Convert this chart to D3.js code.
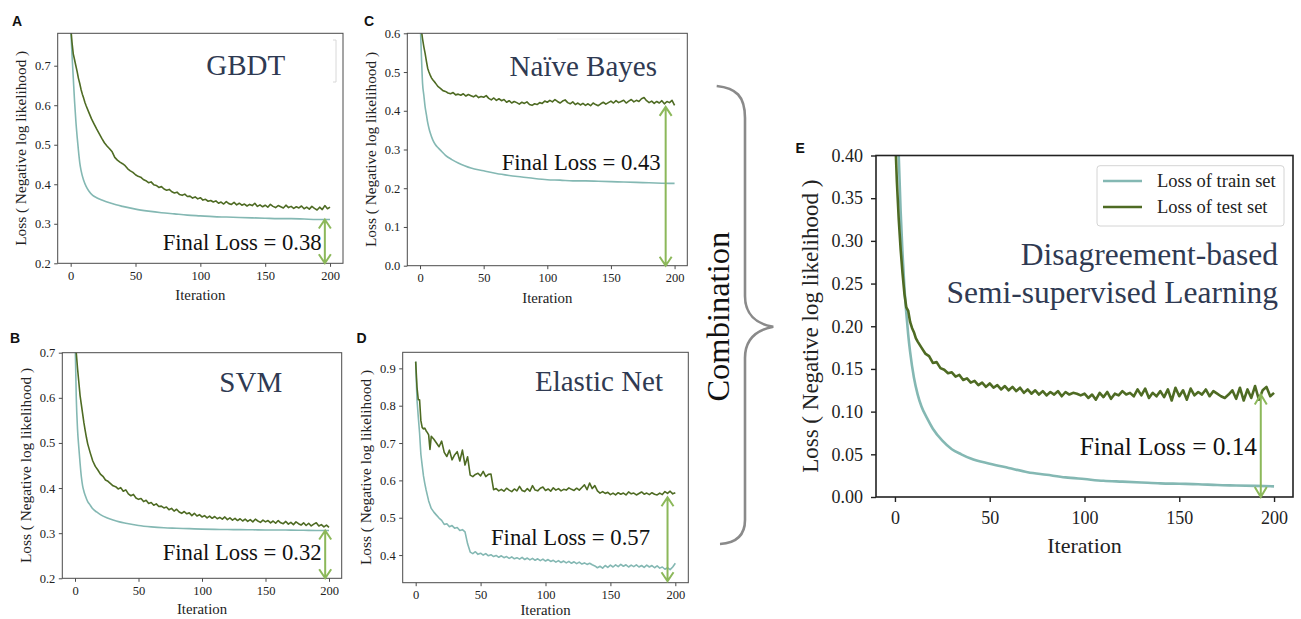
<!DOCTYPE html>
<html>
<head>
<meta charset="utf-8">
<script src="https://cdn.jsdelivr.net/npm/d3@7"></script>
<style>
  body { margin: 0; background: #fff; }
  svg { display: block; }
</style>
</head>
<body>
<div id="chart"></div>
<script>
// iteration grids (x values)
const iterDense = [0,1,2,3,4,5,6,7,8,9,10,11,12,
  14,16,18,20,22,24,26,28,30,32,34,36,38,40,42,44,46,48,50,52,54,56,58,60,
  62,64,66,68,70,72,74,76,78,80,82,84,86,88,90,92,94,96,98,100,
  102,104,106,108,110,112,114,116,118,120,122,124,126,128,130,132,134,136,138,140,
  142,144,146,148,150,152,154,156,158,160,162,164,166,168,170,172,174,176,178,180,
  182,184,186,188,190,192,194,196,198,200];
const iterSparse = [0,1,2,3,4,5,6,7,8,10,12,14,17,20,25,30,35,40,50,60,70,80,90,100,110,120,130,140,150,160,170,180,190,200];

// A: GBDT
const gbdtTrain = [0.80,0.73,0.67,0.61,0.56,0.52,0.485,0.455,0.435,0.41,0.394,0.383,0.372,0.366,0.359,0.353,0.348,0.344,0.337,0.332,0.328,0.325,0.322,0.32,0.318,0.317,0.316,0.315,0.314,0.313,0.313,0.312,0.311,0.311];
const gbdtTest = [0.80,0.76,0.73,0.715,0.70,0.685,0.668,0.655,0.64,0.628,0.618,0.607,0.598,
  0.582,0.566,0.553,0.54,0.528,0.516,0.505,0.497,0.49,0.482,0.468,0.461,0.456,0.452,0.447,0.439,0.434,0.43,0.424,0.42,0.418,0.412,0.409,0.404,
  0.406,0.399,0.397,0.392,0.394,0.388,0.385,0.387,0.381,0.378,0.38,0.374,0.372,0.375,0.369,0.37,0.365,0.368,0.363,0.366,
  0.36,0.362,0.357,0.359,0.355,0.358,0.352,0.355,0.35,0.356,0.351,0.349,0.354,0.348,0.352,0.347,0.35,0.345,0.349,0.346,
  0.352,0.344,0.348,0.343,0.347,0.342,0.349,0.344,0.341,0.346,0.343,0.34,0.347,0.341,0.344,0.339,0.343,0.34,0.345,0.338,
  0.342,0.337,0.344,0.339,0.335,0.342,0.336,0.346,0.338,0.342];

// B: SVM
const svmTrain = [0.74,0.60,0.53,0.49,0.455,0.425,0.405,0.393,0.384,0.37,0.362,0.354,0.347,0.341,0.334,0.329,0.325,0.322,0.317,0.314,0.312,0.311,0.31,0.309,0.3085,0.308,0.3078,0.3075,0.307,0.307,0.3068,0.3065,0.306,0.306];
const svmTest = [0.74,0.70,0.665,0.635,0.605,0.585,0.565,0.545,0.528,0.512,0.498,0.488,0.478,
  0.46,0.448,0.44,0.431,0.426,0.418,0.415,0.41,0.405,0.403,0.398,0.401,0.393,0.396,0.387,0.383,0.386,0.378,0.375,0.377,0.37,0.373,0.366,0.368,
  0.362,0.365,0.359,0.36,0.356,0.358,0.352,0.355,0.349,0.353,0.347,0.344,0.348,0.343,0.345,0.339,0.344,0.338,0.341,0.336,
  0.339,0.334,0.338,0.333,0.337,0.332,0.335,0.331,0.336,0.33,0.334,0.329,0.333,0.328,0.332,0.327,0.331,0.326,0.33,0.325,
  0.331,0.327,0.324,0.329,0.325,0.328,0.323,0.327,0.322,0.328,0.323,0.321,0.326,0.32,0.324,0.319,0.325,0.321,0.318,0.323,
  0.317,0.322,0.316,0.32,0.323,0.316,0.319,0.314,0.318,0.313];

// C: Naive Bayes
const nbTrain = [0.64,0.55,0.47,0.44,0.41,0.39,0.37,0.355,0.343,0.325,0.313,0.305,0.295,0.285,0.274,0.265,0.258,0.252,0.245,0.238,0.233,0.229,0.225,0.222,0.221,0.219,0.219,0.218,0.217,0.216,0.215,0.214,0.213,0.2125];
const nbTest = [0.64,0.61,0.585,0.565,0.548,0.528,0.51,0.50,0.492,0.485,0.48,0.476,0.472,
  0.463,0.458,0.452,0.45,0.446,0.444,0.447,0.441,0.443,0.44,0.444,0.438,0.442,0.439,0.436,0.44,0.434,0.437,0.435,0.439,0.432,0.428,0.433,0.427,
  0.431,0.426,0.429,0.422,0.426,0.42,0.424,0.421,0.417,0.422,0.419,0.423,0.416,0.414,0.418,0.416,0.421,0.419,0.425,0.422,
  0.427,0.423,0.429,0.424,0.42,0.425,0.428,0.421,0.418,0.423,0.416,0.42,0.415,0.419,0.414,0.418,0.413,0.42,0.416,0.413,
  0.418,0.422,0.417,0.421,0.425,0.42,0.426,0.421,0.424,0.427,0.42,0.425,0.429,0.423,0.427,0.424,0.431,0.434,0.426,0.421,
  0.425,0.419,0.424,0.42,0.426,0.418,0.424,0.421,0.427,0.414];

// D: Elastic Net
const enTrain = [0.918,0.816,0.77,0.727,0.67,0.64,0.612,0.592,0.575,0.56,0.545,0.535,0.525,
  0.515,0.507,0.499,0.493,0.482,0.484,0.476,0.479,0.472,0.474,0.466,0.468,0.462,0.43,0.408,0.404,0.409,0.402,0.405,0.40,0.404,0.398,0.401,0.396,
  0.399,0.394,0.398,0.393,0.396,0.391,0.395,0.39,0.393,0.389,0.394,0.388,0.392,0.387,0.391,0.386,0.39,0.385,0.389,0.384,
  0.388,0.383,0.386,0.381,0.385,0.38,0.384,0.379,0.383,0.378,0.382,0.377,0.381,0.376,0.379,0.375,0.378,0.374,0.371,0.366,
  0.37,0.365,0.372,0.367,0.373,0.368,0.374,0.369,0.375,0.37,0.374,0.368,0.373,0.369,0.374,0.368,0.372,0.367,0.373,0.368,
  0.372,0.366,0.371,0.365,0.368,0.362,0.366,0.361,0.368,0.378];
const enTest = [0.918,0.85,0.816,0.816,0.76,0.742,0.738,0.74,0.733,0.728,0.722,0.683,0.718,
  0.71,0.70,0.69,0.705,0.675,0.664,0.681,0.655,0.668,0.677,0.652,0.681,0.641,0.663,0.614,0.61,0.616,0.619,0.612,0.624,0.61,0.616,0.617,0.575,
  0.578,0.572,0.576,0.571,0.579,0.574,0.57,0.577,0.572,0.584,0.573,0.57,0.578,0.571,0.586,0.574,0.572,0.579,0.582,0.573,
  0.577,0.571,0.58,0.574,0.578,0.572,0.576,0.574,0.58,0.576,0.573,0.579,0.574,0.581,0.588,0.575,0.593,0.578,0.586,0.572,
  0.566,0.57,0.565,0.568,0.562,0.566,0.561,0.567,0.563,0.566,0.561,0.569,0.564,0.566,0.561,0.565,0.569,0.563,0.566,0.562,
  0.567,0.563,0.561,0.566,0.562,0.57,0.565,0.571,0.564,0.567];

// E: Disagreement-based semi-supervised learning
const ssTrain = [0.55,0.46,0.40,0.335,0.285,0.245,0.215,0.19,0.17,0.14,0.12,0.106,0.092,0.08,0.066,0.056,0.05,0.045,0.039,0.034,0.029,0.026,0.023,0.021,0.019,0.018,0.017,0.016,0.0155,0.015,0.014,0.0135,0.013,0.0125];
const ssTest = [0.43,0.37,0.325,0.29,0.262,0.238,0.222,0.218,0.205,0.198,0.193,0.186,0.182,
  0.175,0.168,0.165,0.157,0.158,0.151,0.149,0.145,0.146,0.141,0.143,0.137,0.139,0.134,0.136,0.131,0.134,0.129,0.133,0.128,0.131,0.126,0.13,0.125,
  0.129,0.124,0.128,0.122,0.126,0.121,0.125,0.12,0.124,0.119,0.123,0.12,0.124,0.118,0.123,0.12,0.122,0.121,0.119,0.121,
  0.116,0.12,0.114,0.122,0.117,0.123,0.115,0.121,0.119,0.124,0.12,0.122,0.118,0.126,0.119,0.127,0.116,0.122,0.118,0.124,
  0.117,0.126,0.113,0.128,0.118,0.125,0.114,0.127,0.119,0.123,0.12,0.126,0.118,0.124,0.121,0.118,0.116,0.12,0.125,0.115,
  0.128,0.113,0.126,0.116,0.13,0.114,0.125,0.129,0.118,0.122];

const titles = ["GBDT", "SVM", "Naïve Bayes", "Elastic Net"];
const finalLoss = ["0.38", "0.32", "0.43", "0.57", "0.14"];
const letters = ["A", "B", "C", "D", "E"];
// arrow: [iteration, upper value, lower value]
const arrows = [[196, 0.311, 0.2], [197, 0.306, 0.2], [193, 0.41, 0.0], [194, 0.555, 0.33], [193, 0.12, 0.0]];

const trainColor = "#84b8b3";
const testColor = "#4e6b23";
const arrowColor = "#8cb85a";
const titleColor = "#2f3a52";
const serif = "'Liberation Serif', 'Times New Roman', serif";

const svg = d3.select("#chart").append("svg")
  .attr("width", 1301)
  .attr("height", 619);

const zip = (xs, ys) => xs.map((x, i) => [x, ys[i]]);

const panels = [
  { box: [57.7, 33.3, 343, 263.3], ylim: [0.2, 0.782], yticks: [0.2,0.3,0.4,0.5,0.6,0.7], fmt: ".1f",
    train: zip(iterSparse, gbdtTrain), test: zip(iterDense, gbdtTest), title: [245.8, 75], loss: [321.7, 250], letter: [12, 25.7], xlab: 300 },
  { box: [62.3, 352.7, 341.7, 578.3], ylim: [0.2, 0.7], yticks: [0.2,0.3,0.4,0.5,0.6,0.7], fmt: ".1f",
    train: zip(iterSparse, svmTrain), test: zip(iterDense, svmTest), title: [250.8, 391.7], loss: [321.7, 560], letter: [10, 342.7], xlab: 614 },
  { box: [407.3, 33.3, 687.3, 265.7], ylim: [0, 0.6], yticks: [0,0.1,0.2,0.3,0.4,0.5,0.6], fmt: ".1f",
    train: zip(iterSparse, nbTrain), test: zip(iterDense, nbTest), title: [583.3, 76], loss: [660.7, 170], letter: [364, 25.5], xlab: 302.5 },
  { box: [402.7, 352.3, 688.3, 582.7], ylim: [0.326, 0.943], yticks: [0.4,0.5,0.6,0.7,0.8,0.9], fmt: ".1f",
    train: zip(iterDense, enTrain), test: zip(iterDense, enTest), title: [599, 390.7], loss: [650, 545], letter: [356.5, 342.7], xlab: 614.5 },
  { box: [876, 155.5, 1293, 497], ylim: [0, 0.4], yticks: [0,0.05,0.1,0.15,0.2,0.25,0.3,0.35,0.4], fmt: ".2f",
    train: zip(iterSparse, ssTrain), test: zip(iterDense, ssTest), loss: [1257, 455], letter: [795.5, 152.7], xlab: 553, big: true }
];

panels.forEach((p, i) => {
  const [x0, y0, x1, y1] = p.box;
  const big = !!p.big;
  const x = d3.scaleLinear().domain([-10, 210]).range([x0, x1]);
  const y = d3.scaleLinear().domain(p.ylim).range([y1, y0]);
  const frameColor = big ? "#222" : "#4a4a4a";
  const tickLen = big ? 5 : 3.5;
  const g = svg.append("g");

  g.append("clipPath").attr("id", "clip" + i)
    .append("rect").attr("x", x0).attr("y", y0).attr("width", x1 - x0).attr("height", y1 - y0);

  const line = d3.line().x(d => x(d[0])).y(d => y(d[1]));
  const smooth = d3.line().x(d => x(d[0])).y(d => y(d[1])).curve(d3.curveMonotoneX);

  const plot = g.append("g").attr("clip-path", `url(#clip${i})`);
  plot.append("path")
    .attr("d", (i === 3 ? line : smooth)(p.train))
    .attr("fill", "none")
    .attr("stroke", trainColor)
    .attr("stroke-width", big ? 2.6 : 1.6)
    .attr("stroke-linejoin", "round");
  plot.append("path")
    .attr("d", line(p.test))
    .attr("fill", "none")
    .attr("stroke", testColor)
    .attr("stroke-width", big ? 2.6 : 1.6)
    .attr("stroke-linejoin", "round");

  // axes
  const xAxis = d3.axisBottom(x).tickValues([0, 50, 100, 150, 200]).tickSize(tickLen).tickPadding(big ? 9 : 4);
  const yAxis = d3.axisLeft(y).tickValues(p.yticks).tickFormat(d3.format(p.fmt)).tickSize(tickLen).tickPadding(big ? 8 : 3.5);
  const xa = g.append("g").attr("transform", `translate(0,${y1})`).call(xAxis);
  const ya = g.append("g").attr("transform", `translate(${x0},0)`).call(yAxis);
  [xa, ya].forEach(a => {
    a.attr("font-family", serif).attr("font-size", big ? 18 : 12.5);
    a.select(".domain").remove();
    a.selectAll("line").attr("stroke", frameColor).attr("stroke-width", big ? 1.4 : 1);
    a.selectAll("text")
      .attr("fill", "#222")
      .attr("font-family", serif)
      .style("font-family", serif)
      .style("font-size", big ? "18px" : "12.5px");
  });

  g.append("rect")
    .attr("x", x0).attr("y", y0)
    .attr("width", x1 - x0).attr("height", y1 - y0)
    .attr("fill", "none")
    .attr("stroke", frameColor)
    .attr("stroke-width", big ? 1.6 : 1);

  // axis labels
  g.append("text")
    .attr("x", (x(0) + x(200)) / 2)
    .attr("y", p.xlab)
    .attr("text-anchor", "middle")
    .style("font-family", serif)
    .style("font-size", big ? "22px" : "14.8px")
    .attr("fill", "#222")
    .text("Iteration");
  g.append("text")
    .attr("transform", `translate(${x0 - (big ? 58 : 31.3)},${(y0 + y1) / 2}) rotate(-90)`)
    .attr("text-anchor", "middle")
    .style("font-family", serif)
    .style("font-size", big ? "23px" : "15.3px")
    .attr("fill", "#222")
    .text("Loss ( Negative log likelihood )");

  // panel letter
  g.append("text")
    .attr("x", p.letter[0]).attr("y", p.letter[1])
    .style("font-family", "'Liberation Sans', Arial, sans-serif")
    .style("font-weight", "bold")
    .style("font-size", "14px")
    .attr("fill", "#111")
    .text(letters[i]);

  // title
  if (p.title) {
    g.append("text")
      .attr("x", p.title[0]).attr("y", p.title[1])
      .attr("text-anchor", "middle")
      .style("font-family", serif)
      .style("font-size", "29px")
      .attr("fill", titleColor)
      .text(titles[i]);
  }

  // final loss arrow
  const [ai, av0, av1] = arrows[i];
  const ax = x(ai), ay0 = y(av0), ay1 = y(av1);
  const hw = 6, hl = big ? 10 : 9;
  g.append("path")
    .attr("d", `M${ax},${ay0}V${ay1}M${ax - hw},${ay0 + hl}L${ax},${ay0}L${ax + hw},${ay0 + hl}M${ax - hw},${ay1 - hl}L${ax},${ay1}L${ax + hw},${ay1 - hl}`)
    .attr("fill", "none")
    .attr("stroke", arrowColor)
    .attr("stroke-width", 2);

  g.append("text")
    .attr("x", p.loss[0]).attr("y", p.loss[1])
    .attr("text-anchor", "end")
    .style("font-family", serif)
    .style("font-size", big ? "25.3px" : "22.7px")
    .attr("fill", "#111")
    .text("Final Loss = " + finalLoss[i]);

  if (big) {
    // legend
    const lg = g.append("g");
    lg.append("rect")
      .attr("x", 1097).attr("y", 165.7).attr("width", 187).attr("height", 60.3)
      .attr("rx", 3)
      .attr("fill", "#fff").attr("fill-opacity", 0.85)
      .attr("stroke", "#d4d4d4");
    [["Loss of train set", trainColor, 181], ["Loss of test set", testColor, 207]].forEach(([t, c, ly]) => {
      lg.append("line").attr("x1", 1103).attr("x2", 1142).attr("y1", ly).attr("y2", ly)
        .attr("stroke", c).attr("stroke-width", 2.6);
      lg.append("text").attr("x", 1157).attr("y", ly + 6)
        .style("font-family", serif).style("font-size", "18.5px").attr("fill", "#222").text(t);
    });
    ["Disagreement-based", "Semi-supervised Learning"].forEach((t, k) => {
      g.append("text")
        .attr("x", 1278).attr("y", k ? 303.3 : 265)
        .attr("text-anchor", "end")
        .style("font-family", serif)
        .style("font-size", "31.5px")
        .attr("fill", titleColor)
        .text(t);
    });
  }
});

// faint legend remnants in A and C
svg.append("path").attr("d", "M333,40H336V82H333").attr("fill", "none").attr("stroke", "#d8d8d8").attr("stroke-width", 1);
svg.append("line").attr("x1", 557).attr("x2", 680).attr("y1", 39).attr("y2", 39).attr("stroke", "#f0f0f0");

// brace + "Combination"
svg.append("path")
  .attr("d", "M716.7,86 C736,88 745,96 745,118 L745,296 C745,314 756,324 773.3,326.7 C756,330 745,340 745,358 L745,520 C745,536 736,543 720,544")
  .attr("fill", "none")
  .attr("stroke", "#8a8a8a")
  .attr("stroke-width", 2.6);
svg.append("text")
  .attr("transform", "translate(729,316.7) rotate(-90)")
  .attr("text-anchor", "middle")
  .style("font-family", serif)
  .style("font-size", "32.5px")
  .attr("fill", "#111")
  .text("Combination");
</script>
</body>
</html>
